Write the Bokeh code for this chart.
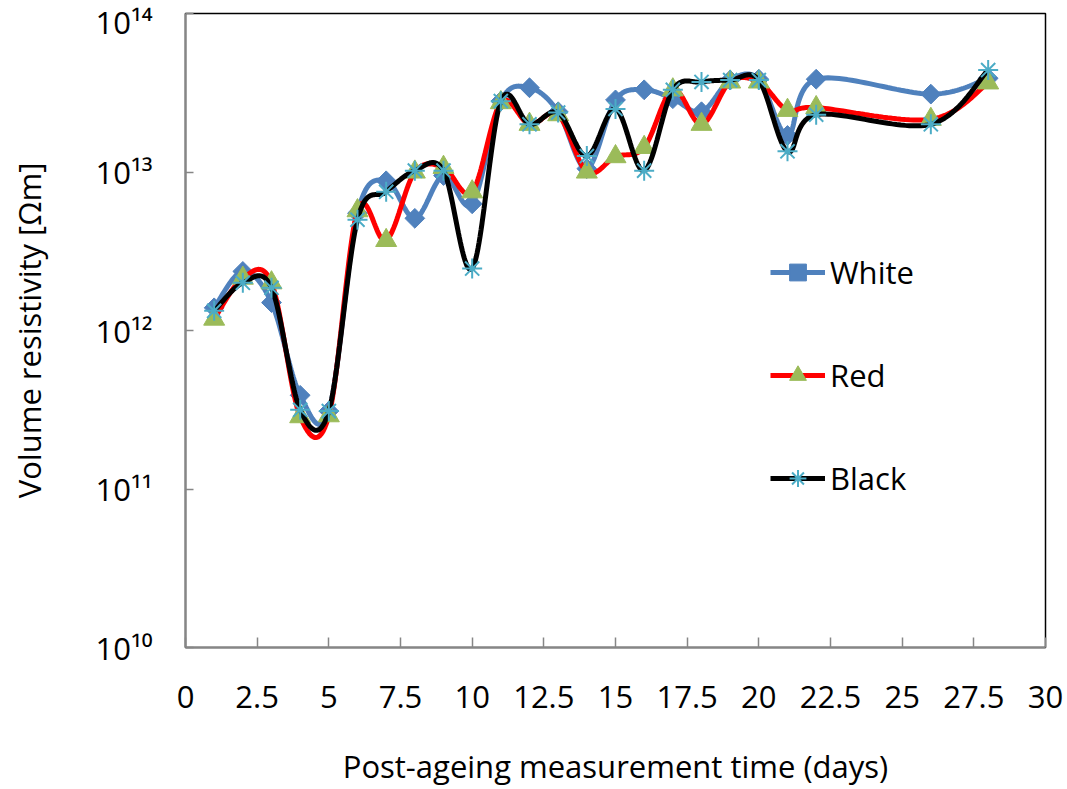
import numpy as np
from bokeh.plotting import figure
from bokeh.models import Legend, LegendItem, FixedTicker
from bokeh.embed import file_html
from bokeh.resources import INLINE

# ---- data ----
days = [1, 2, 3, 4, 5, 6, 7, 8, 9, 10, 11, 12, 13, 14, 15, 16, 17, 18, 19, 20, 21, 22, 26, 28]
white = [1.39e12, 2.36e12, 1.5e12, 3.9e11, 3.1e11, 5.5e12, 8.8e12, 5.1e12, 9.5e12, 6.3e12,
         2.8e13, 3.4e13, 2.4e13, 1.05e13, 2.85e13, 3.3e13, 2.9e13, 2.4e13, 3.8e13, 3.85e13,
         1.7e13, 3.85e13, 3.1e13, 3.9e13]
red = [1.18e12, 2.14e12, 2.0e12, 2.86e11, 2.9e11, 5.7e12, 3.7e12, 1.0e13, 1.07e13, 7.5e12,
       2.74e13, 2.0e13, 2.3e13, 1.0e13, 1.25e13, 1.43e13, 3.3e13, 2.0e13, 3.7e13, 3.7e13,
       2.45e13, 2.55e13, 2.15e13, 3.65e13]
black = [1.33e12, 2.0e12, 1.86e12, 3.16e11, 3.1e11, 5.0e12, 7.5e12, 1.02e13, 1.02e13, 2.46e12,
         2.8e13, 2.0e13, 2.37e13, 1.26e13, 2.5e13, 1.02e13, 3.3e13, 3.7e13, 3.8e13, 3.8e13,
         1.35e13, 2.3e13, 2.0e13, 4.4e13]
series_names = ["White", "Red", "Black"]
x_ticks = [0, 2.5, 5, 7.5, 10, 12.5, 15, 17.5, 20, 22.5, 25, 27.5, 30]
x_tick_labels = ["0", "2.5", "5", "7.5", "10", "12.5", "15", "17.5", "20", "22.5", "25", "27.5", "30"]
y_ticks = [1e10, 1e11, 1e12, 1e13, 1e14]
y_tick_labels = ["10\u00b9\u2070", "10\u00b9\u00b9", "10\u00b9\u00b2", "10\u00b9\u00b3", "10\u00b9\u2074"]


def smooth(xs, vs, n=30):
    """Catmull-Rom (Excel-style) smoothing in (x, log10 v) space."""
    P = np.column_stack([np.asarray(xs, float), np.log10(np.asarray(vs, float))])
    out = []
    m = len(P)
    t = np.linspace(0, 1, n)[:, None]
    for i in range(m - 1):
        p0 = P[i - 1] if i > 0 else P[i]
        p1, p2 = P[i], P[i + 1]
        p3 = P[i + 2] if i + 2 < m else P[i + 1]
        c1 = p1 + (p2 - p0) / 6.0
        c2 = p2 - (p3 - p1) / 6.0
        seg = ((1 - t) ** 3) * p1 + 3 * ((1 - t) ** 2) * t * c1 + 3 * (1 - t) * t ** 2 * c2 + t ** 3 * p2
        out.append(seg if i == 0 else seg[1:])
    S = np.vstack(out)
    return S[:, 0], 10 ** S[:, 1]


FONT = "Open Sans"
FS = "31px"

p = figure(width=1067, height=789, x_range=(0, 30), y_range=(1e10, 1e14),
           y_axis_type="log", output_backend="svg", toolbar_location=None,
           min_border_left=185, min_border_right=22, min_border_top=13, min_border_bottom=136)
p.grid.visible = False
p.outline_line_color = "black"
p.outline_line_width = 1.5
p.background_fill_color = "white"
p.border_fill_color = "white"

# axes
p.xaxis.ticker = FixedTicker(ticks=x_ticks, minor_ticks=[])
p.xaxis.major_label_overrides = {float(k): v for k, v in zip(x_ticks, x_tick_labels)}
p.yaxis.ticker = FixedTicker(ticks=y_ticks, minor_ticks=[])
p.yaxis.major_label_overrides = {float(k): v for k, v in zip(y_ticks, y_tick_labels)}
for ax in (p.xaxis, p.yaxis):
    ax.axis_line_color = "#868686"
    ax.axis_line_width = 2
    ax.major_tick_line_color = "#868686"
    ax.major_tick_line_width = 1.5
    ax.major_tick_out = 0
    ax.minor_tick_line_color = None
    ax.major_label_text_font = FONT
    ax.major_label_text_font_size = FS
    ax.major_label_text_color = "black"
    ax.axis_label_text_font = FONT
    ax.axis_label_text_font_size = FS
    ax.axis_label_text_font_style = "normal"
    ax.axis_label_text_color = "black"
p.xaxis.major_tick_in = 10
p.yaxis.major_tick_in = 8
p.xaxis.major_label_standoff = 38
p.yaxis.major_label_standoff = 33
p.xaxis.axis_label = "Post-ageing measurement time (days)"
p.yaxis.axis_label = "Volume resistivity [\u03a9m]"
p.xaxis.axis_label_standoff = 34
p.yaxis.axis_label_standoff = 42

items = []
# White
xs, ys = smooth(days, white)
lw = p.line(xs, ys, line_color="#4F81BD", line_width=5)
sw = p.scatter(days, white, marker="square", angle=np.pi / 4, size=14,
               fill_color="#4F81BD", line_color="#4F81BD")
items.append(LegendItem(label=series_names[0], renderers=[lw, sw]))
# Red
xs, ys = smooth(days, red)
lr = p.line(xs, ys, line_color="#FF0000", line_width=5)
sr = p.scatter(days, red, marker="triangle", size=21,
               fill_color="#9BBB59", line_color="#9BBB59")
items.append(LegendItem(label=series_names[1], renderers=[lr, sr]))
# Black
xs, ys = smooth(days, black)
lb = p.line(xs, ys, line_color="#000000", line_width=5)
sb = p.scatter(days, black, marker="asterisk", size=20,
               line_color="#4BACC6", line_width=2)
items.append(LegendItem(label=series_names[2], renderers=[lb, sb]))

legend = Legend(items=items, location=(585, 148), border_line_color=None,
                background_fill_alpha=0, padding=0, margin=0, spacing=61,
                glyph_width=55, glyph_height=42, label_height=42, label_standoff=5,
                label_text_font=FONT, label_text_font_size=FS,
                label_text_color="black")
p.add_layout(legend)

open("out.html", "w").write(file_html(p, INLINE))
